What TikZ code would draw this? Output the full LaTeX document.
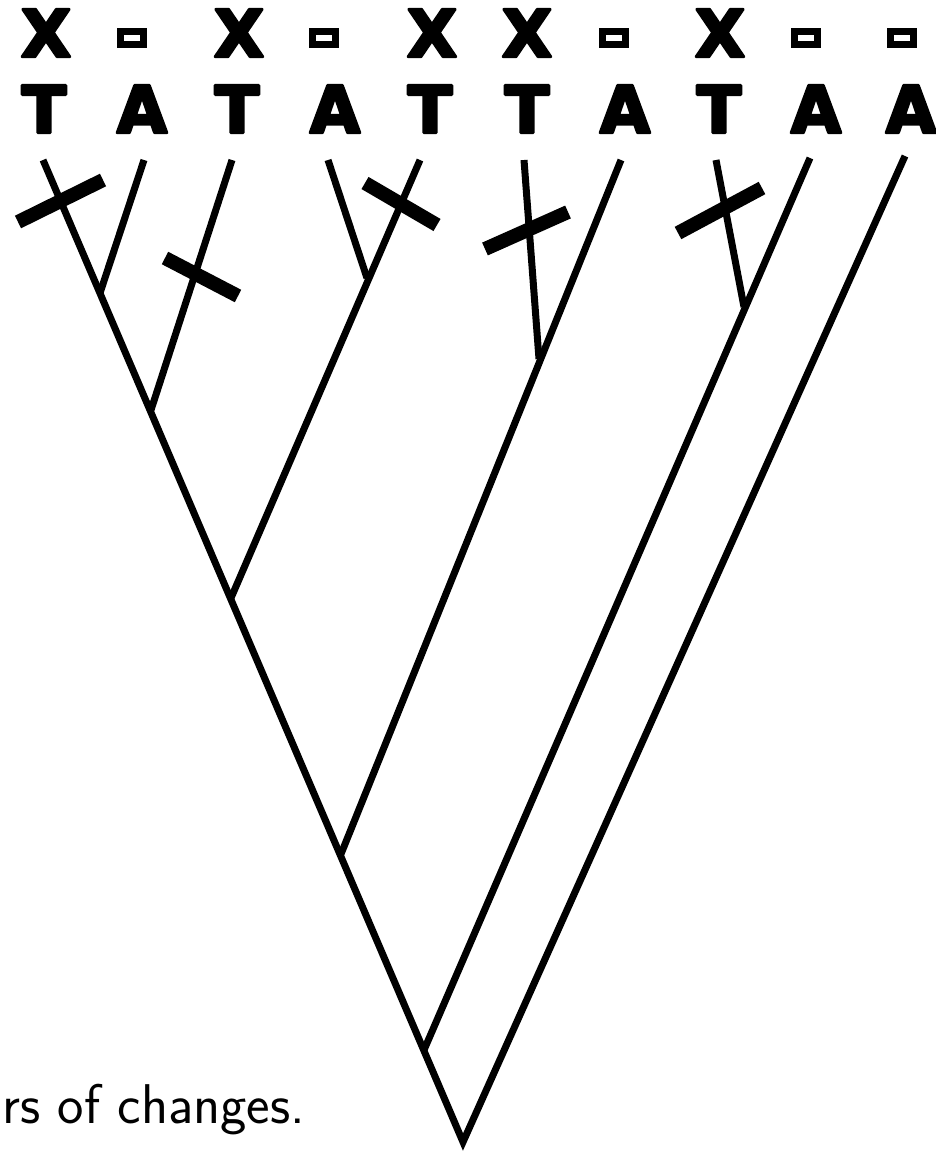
\documentclass[tikz,border=0pt]{standalone}
\usepackage{fontspec}
\newfontfamily\labfont{DejaVu Sans Bold}[FakeBold=4.5]
\begin{document}
\begin{tikzpicture}[x=1pt,y=-1pt,
  branch/.style={line width=7pt, line cap=butt},
  changebar/.style={line width=14pt, line cap=butt},
  lab/.style={inner sep=0pt, anchor=center, font=\fontsize{65}{65}\labfont, line join=round},
  nochange/.style={draw, line width=7pt, minimum width=23pt, minimum height=13pt, inner sep=0pt, line join=miter}]
\useasboundingbox (0,0) rectangle (936,1151);
% top row labels
\node[lab] (x1) at (46,33) {X};
\node[nochange] (m1) at (132,38) {};
\node[lab] (x2) at (239,33) {X};
\node[nochange] (m2) at (324,38) {};
\node[lab] (x3) at (432,33) {X};
\node[lab] (x4) at (527,33) {X};
\node[nochange] (m3) at (614,38) {};
\node[lab] (x5) at (720,33) {X};
\node[nochange] (m4) at (806,38) {};
\node[nochange] (m5) at (902,38) {};
% second row labels
\node[lab] (t1) at (44,109) {T};
\node[lab] (a1) at (142,109) {A};
\node[lab] (t2) at (237,109) {T};
\node[lab] (a2) at (335,109) {A};
\node[lab] (t3) at (430,109) {T};
\node[lab] (t4) at (527,109) {T};
\node[lab] (a3) at (625,109) {A};
\node[lab] (t5) at (719,109) {T};
\node[lab] (a4) at (816,109) {A};
\node[lab] (a5) at (911,109) {A};
% tree coordinates
\coordinate (l1) at (43,160);
\coordinate (l2) at (144,160);
\coordinate (l3) at (232,160);
\coordinate (l4) at (328,160);
\coordinate (l5) at (420,160);
\coordinate (l6) at (524,160);
\coordinate (l7) at (621,160);
\coordinate (l8) at (716,160);
\coordinate (l9) at (810,158);
\coordinate (l10) at (905,156);
\coordinate (n12) at (100,293);
\coordinate (n123) at (151,410);
\coordinate (n45) at (367,278);
\coordinate (n1to5) at (231,598);
\coordinate (n67) at (539,359);
\coordinate (n1to7) at (341,854);
\coordinate (n89) at (744,307);
\coordinate (n1to9) at (424,1050);
\coordinate (root) at (463,1142);
% branches
\draw[branch, line join=miter] (l1) -- (root) -- (l10);
\draw[branch] (n12) -- (l2);
\draw[branch] (n123) -- (l3);
\draw[branch] (n1to5) -- (l5);
\draw[branch] (n45) -- (l4);
\draw[branch] (n1to7) -- (l7);
\draw[branch] (n67) -- (l6);
\draw[branch] (n1to9) -- (l9);
\draw[branch] (n89) -- (l8);
% change bars
\coordinate (b1s) at (18,222); \coordinate (b1e) at (103,180);
\coordinate (b3s) at (165,258); \coordinate (b3e) at (238,296);
\coordinate (b5s) at (365,183); \coordinate (b5e) at (437,225);
\coordinate (b6s) at (485,249); \coordinate (b6e) at (568,212);
\coordinate (b8s) at (678,233); \coordinate (b8e) at (762,188);
\draw[changebar] (b1s) -- (b1e);
\draw[changebar] (b3s) -- (b3e);
\draw[changebar] (b5s) -- (b5e);
\draw[changebar] (b6s) -- (b6e);
\draw[changebar] (b8s) -- (b8e);
% clipped caption
\node[anchor=base west, inner sep=0pt, font=\fontsize{56}{64}\sffamily] (cap) at (2,1123) {rs of changes.};
\end{tikzpicture}
\end{document}
